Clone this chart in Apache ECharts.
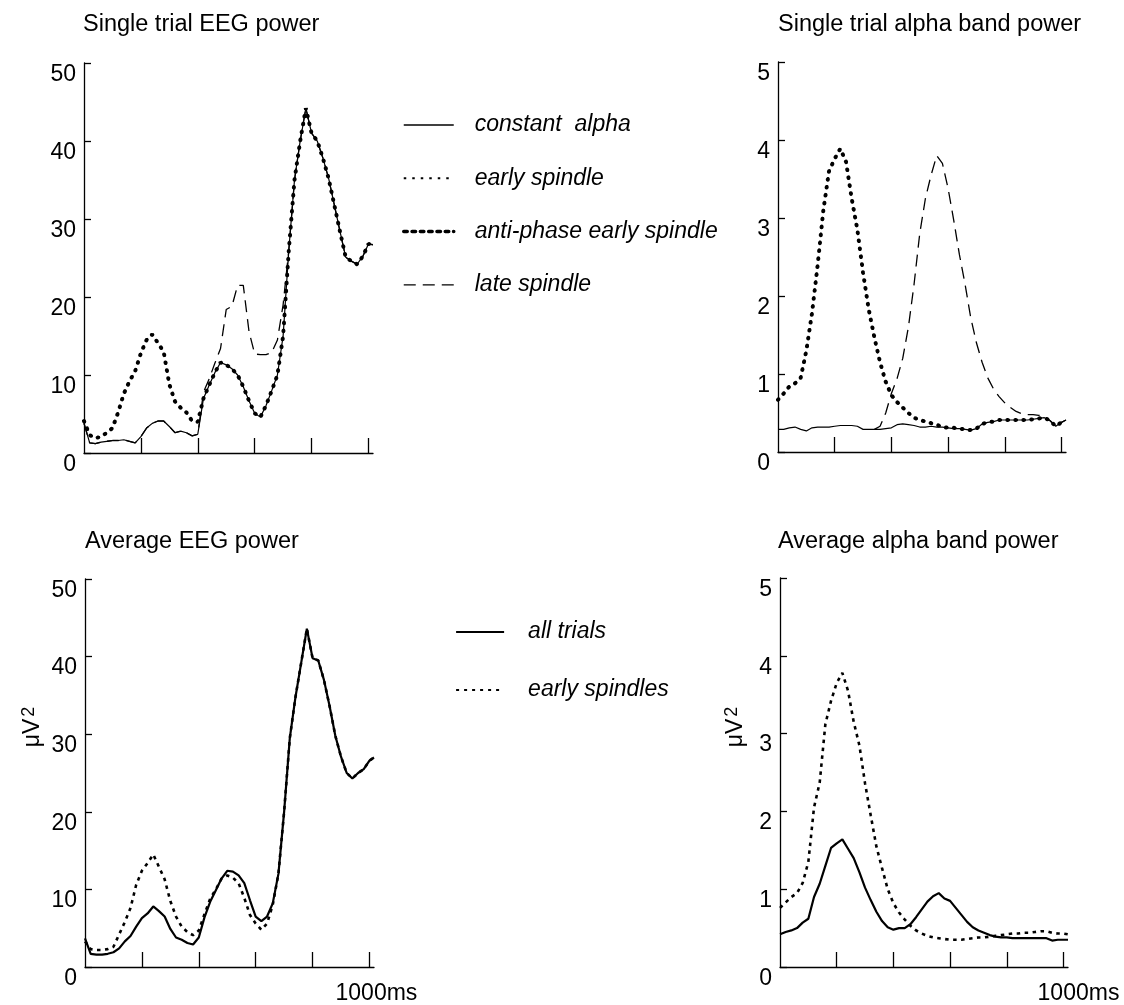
<!DOCTYPE html>
<html>
<head>
<meta charset="utf-8">
<script src="https://cdn.jsdelivr.net/npm/echarts@6/dist/echarts.min.js"></script>
<style>
html,body{margin:0;padding:0;background:#fff;}
#chart{width:1124px;height:1005px;}
</style>
</head>
<body>
<div id="chart"></div>
<script>
// ---------- DATA ----------
const timeMs = [0,20,40,60,80,100,120,140,160,180,200,220,240,260,280,300,320,340,360,380,400,
  420,440,460,480,500,520,540,560,580,600,620,640,660,680,700,720,740,760,780,800,
  820,840,860,880,900,920,940,960,980,1000,1016];

const xTickValues = [200,400,600,800,1000];
const xLabelValues = [1000];
const eegTicks = [0,10,20,30,40,50];
const alphaTicks = [0,1,2,3,4,5];

// Single trial EEG power
const eegConstant = [3.8,1.3,1.2,1.4,1.5,1.6,1.6,1.7,1.5,1.3,2.1,3.2,3.8,4.1,4.1,3.4,2.6,2.8,2.6,2.2,2.4,
  7.0,8.7,10.3,11.6,11.3,10.8,10.0,8.5,6.7,5.1,4.6,6.1,8.0,10.0,15.0,26.0,35.0,40.0,44.2,41.0,
  40.0,37.8,35.2,31.8,28.4,25.1,24.6,24.2,25.2,26.8,26.7];
const eegEarly = [4.1,2.3,1.9,2.1,2.6,3.2,5.2,7.6,9.2,10.5,12.8,14.5,15.2,14.1,13.0,8.8,6.6,5.8,5.2,4.1,4.0,
  7.0,8.7,10.3,11.6,11.3,10.8,10.0,8.5,6.7,5.1,4.6,6.1,8.0,10.0,15.0,26.0,35.0,40.0,44.2,41.0,
  40.0,37.8,35.2,31.8,28.4,25.1,24.6,24.2,25.2,26.8,26.7];
const eegAntiPhase = [4.1,2.3,1.9,2.1,2.6,3.2,5.2,7.6,9.2,10.5,12.8,14.5,15.2,14.1,13.0,8.8,6.6,5.8,5.2,4.1,4.0,
  7.0,8.7,10.3,11.6,11.3,10.8,10.0,8.5,6.7,5.1,4.6,6.1,8.0,10.0,15.0,26.0,35.0,40.0,44.2,41.0,
  40.0,37.8,35.2,31.8,28.4,25.1,24.6,24.2,25.2,26.8,26.7];
const eegLate = [3.8,1.3,1.2,1.4,1.5,1.6,1.6,1.7,1.5,1.3,2.1,3.2,3.8,4.1,4.1,3.4,2.6,2.8,2.6,2.2,2.4,
  7.8,9.5,11.5,13.4,18.4,18.8,21.5,21.5,15.6,12.7,12.6,12.6,12.9,14.5,19.0,26.0,35.0,40.0,44.2,41.0,
  40.0,37.8,35.2,31.8,28.4,25.1,24.6,24.2,25.2,26.8,26.7];

// Single trial alpha band power
const alphaConstant = [0.29,0.29,0.31,0.32,0.29,0.27,0.31,0.32,0.32,0.32,0.33,0.34,0.34,0.34,0.33,0.29,0.29,0.29,0.29,0.30,0.31,
  0.35,0.36,0.35,0.34,0.32,0.32,0.33,0.32,0.32,0.31,0.30,0.30,0.29,0.28,0.30,0.36,0.38,0.39,0.41,0.41,
  0.41,0.41,0.41,0.41,0.42,0.43,0.44,0.40,0.33,0.38,0.41];
const alphaEarly = [0.67,0.75,0.84,0.88,0.95,1.30,1.78,2.40,3.10,3.60,3.76,3.89,3.72,3.25,2.85,2.30,1.83,1.47,1.15,0.90,0.73,
  0.64,0.57,0.50,0.44,0.41,0.39,0.37,0.35,0.32,0.31,0.31,0.30,0.29,0.28,0.30,0.36,0.38,0.39,0.41,0.41,
  0.41,0.41,0.41,0.41,0.42,0.43,0.44,0.40,0.33,0.38,0.41];
const alphaAntiPhase = [0.67,0.75,0.84,0.88,0.95,1.30,1.78,2.40,3.10,3.60,3.76,3.89,3.72,3.25,2.85,2.30,1.83,1.47,1.15,0.90,0.73,
  0.64,0.57,0.50,0.44,0.41,0.39,0.37,0.35,0.32,0.31,0.31,0.30,0.29,0.28,0.30,0.36,0.38,0.39,0.41,0.41,
  0.41,0.41,0.41,0.41,0.42,0.43,0.44,0.40,0.33,0.38,0.41];
const alphaLate = [null,null,null,null,null,null,null,null,null,null,null,null,null,null,null,null,null,0.29,0.33,0.50,0.75,
  0.94,1.20,1.60,2.15,2.80,3.25,3.55,3.80,3.70,3.38,2.97,2.53,2.15,1.72,1.40,1.15,0.95,0.81,0.71,0.63,
  0.57,0.52,0.49,0.48,0.48,0.47,0.46,0.40,0.33,0.38,0.41];

// Average EEG power
const avgEegAll = [3.7,1.7,1.6,1.6,1.7,1.9,2.4,3.3,4.0,5.2,6.3,6.9,7.8,7.2,6.5,4.9,3.8,3.5,3.1,2.9,3.8,
  6.4,8.4,9.9,11.4,12.4,12.3,11.8,10.8,8.6,6.5,5.9,6.5,8.2,12.0,20.0,29.5,34.8,39.2,43.6,39.8,
  39.5,37.0,33.6,29.8,27.1,25.0,24.3,25.0,25.5,26.6,27.0];
const avgEegEarly = [3.3,2.3,2.2,2.2,2.3,2.6,4.2,5.8,7.6,10.6,12.4,13.4,14.5,12.9,11.3,8.5,6.5,5.2,4.5,4.1,4.7,
  6.8,8.8,10.0,11.4,11.8,11.5,10.8,8.9,6.7,5.6,4.8,5.6,8.0,12.0,20.0,29.5,34.8,39.2,43.6,39.8,
  39.5,37.0,33.6,29.8,27.1,25.0,24.3,25.0,25.5,26.6,27.0];

// Average alpha band power
const avgAlphaAll = [0.42,0.45,0.47,0.50,0.57,0.62,0.90,1.07,1.30,1.53,1.59,1.64,1.52,1.40,1.22,1.02,0.86,0.71,0.59,0.51,0.48,
  0.50,0.50,0.55,0.64,0.74,0.84,0.91,0.95,0.88,0.85,0.76,0.67,0.58,0.51,0.47,0.44,0.41,0.39,0.38,0.38,
  0.37,0.37,0.37,0.37,0.37,0.37,0.37,0.34,0.35,0.35,0.35];
const avgAlphaEarly = [0.76,0.83,0.90,0.95,1.08,1.35,2.05,2.37,3.12,3.42,3.65,3.78,3.55,3.15,2.85,2.36,1.95,1.55,1.27,1.00,0.82,
  0.70,0.61,0.53,0.47,0.43,0.40,0.38,0.37,0.36,0.35,0.35,0.35,0.36,0.37,0.38,0.38,0.39,0.40,0.41,0.42,
  0.43,0.43,0.44,0.44,0.45,0.46,0.46,0.44,0.43,0.43,0.42];

const titles = ['Single trial EEG power','Single trial alpha band power','Average EEG power','Average alpha band power'];
const topLegendNames = ['constant  alpha','early spindle','anti-phase early spindle','late spindle'];
const bottomLegendNames = ['all trials','early spindles'];
const unitMain = 'μV';
const unitSup = '2';
const xEndLabel = '1000ms';

// ---------- STYLE / LAYOUT ----------
const FONT = '"Liberation Sans", Arial, Helvetica, sans-serif';
const FS = 23;
const X_MAX = 1016;
const grids = [
  {left:84, top:63, width:289, height:390},
  {left:778, top:62, width:288, height:390},
  {left:85, top:579, width:289, height:390},
  {left:780, top:578, width:288, height:389}
];

const pairs = arr => timeMs.map((t,i)=>[t, arr[i]]);

function xAxisFor(gi, showLabel, padLeft){
  return {
    type:'value', gridIndex:gi, min:0, max:X_MAX,
    axisLine:{show:true, onZero:false, lineStyle:{color:'#000', width:1.3}},
    axisTick:{show:true, inside:true, length:15, customValues:xTickValues, lineStyle:{color:'#000', width:1.3}},
    axisLabel: showLabel ? {show:true, customValues:xLabelValues, formatter:()=>xEndLabel,
      fontSize:FS, fontFamily:FONT, color:'#000', margin:15, padding:[0,0,0,padLeft]} : {show:false},
    splitLine:{show:false}
  };
}
function yAxisFor(gi, ticks){
  return {
    type:'value', gridIndex:gi, min:ticks[0], max:ticks[ticks.length-1], interval:ticks[1]-ticks[0],
    axisLine:{show:true, onZero:false, lineStyle:{color:'#000', width:1.3}},
    axisTick:{show:true, inside:true, length:7, lineStyle:{color:'#000', width:1.3}},
    axisLabel:{show:true, fontSize:FS, fontFamily:FONT, color:'#000', margin:8, verticalAlign:'top'},
    splitLine:{show:false}
  };
}

const styles = {
  solidThin:{color:'#000', width:1.2, type:'solid'},
  dotThin:{color:'#000', width:2, type:[2.5,5.5]},
  dotThick:{color:'#000', width:4, type:[0.5,7.5], cap:'round'},
  dashed:{color:'#000', width:1.3, type:[12,7]},
  solidBold:{color:'#000', width:2.2, type:'solid'},
  dotMed:{color:'#000', width:2.6, type:[3.5,4.5]}
};

function line(name, data, gi, st, z){
  return {
    name, type:'line', xAxisIndex:gi, yAxisIndex:gi, data:pairs(data),
    symbol:'none', showSymbol:false, smooth:false, connectNulls:false, z:z||2,
    lineStyle:st, itemStyle:{color:'#000'}, emphasis:{disabled:true}, silent:true, animation:false
  };
}

const series = [
  line(topLegendNames[0], eegConstant, 0, styles.solidThin, 2),
  line(topLegendNames[3], eegLate, 0, styles.dashed, 3),
  line(topLegendNames[1], eegEarly, 0, styles.dotThin, 4),
  line(topLegendNames[2], eegAntiPhase, 0, styles.dotThick, 5),
  line(topLegendNames[0], alphaConstant, 1, styles.solidThin, 2),
  line(topLegendNames[3], alphaLate, 1, styles.dashed, 3),
  line(topLegendNames[1], alphaEarly, 1, styles.dotThin, 4),
  line(topLegendNames[2], alphaAntiPhase, 1, styles.dotThick, 5),
  line(bottomLegendNames[0], avgEegAll, 2, styles.solidBold, 3),
  line(bottomLegendNames[1], avgEegEarly, 2, styles.dotMed, 4),
  line(bottomLegendNames[0], avgAlphaAll, 3, styles.solidBold, 3),
  line(bottomLegendNames[1], avgAlphaEarly, 3, styles.dotMed, 4)
];

const titleStyle = {fontSize:23.5, fontWeight:'normal', fontFamily:FONT, color:'#000'};
const legendText = {fontSize:FS, fontStyle:'italic', fontFamily:FONT, color:'#000', lineHeight:26};
const hiddenSymbol = {color:'rgba(0,0,0,0)', borderWidth:0, opacity:0};

const topLegendStyles = [{color:'#000', width:1.5, type:'solid'}, {color:'#000', width:2, type:[2.5,6]}, {color:'#000', width:3.5, type:[3.5,4.8]}, styles.dashed];
const bottomLegendStyles = [{color:'#000', width:2, type:'solid'}, {color:'#000', width:2.2, type:[3,5]}];

const unitText = x => ({
  type:'text', x:x, y:727, rotation:Math.PI/2, silent:true,
  style:{text:'{a|'+unitMain+'}{b|'+unitSup+'}', fill:'#000', align:'center', verticalAlign:'middle',
    textAlign:'center', textVerticalAlign:'middle',
    rich:{a:{fontSize:FS, fontFamily:FONT, fill:'#000', color:'#000', lineHeight:26},
          b:{fontSize:18, fontFamily:FONT, fill:'#000', color:'#000', verticalAlign:'top', lineHeight:18, padding:[0,0,0,2]}}}
});

const option = {
  backgroundColor:'#fff',
  animation:false,
  title:[
    {text:titles[0], left:83, top:13, padding:0, textStyle:titleStyle},
    {text:titles[1], left:778, top:13, padding:0, textStyle:titleStyle},
    {text:titles[2], left:85, top:530, padding:0, textStyle:titleStyle},
    {text:titles[3], left:778, top:530, padding:0, textStyle:titleStyle}
  ],
  legend:[
    {data:topLegendNames.map((n,i)=>({name:n, lineStyle:topLegendStyles[i], itemStyle:hiddenSymbol})),
      orient:'vertical', left:402, top:112, padding:0, itemWidth:50, itemHeight:14, itemGap:27.3,
      itemStyle:hiddenSymbol,
      textStyle:Object.assign({padding:[0,0,0,16]}, legendText), selectedMode:false, inactiveColor:'#000'},
    {data:bottomLegendNames.map((n,i)=>({name:n, lineStyle:bottomLegendStyles[i], itemStyle:hiddenSymbol})),
      orient:'vertical', left:455, top:619, padding:0, itemWidth:48, itemHeight:14, itemGap:32,
      itemStyle:hiddenSymbol,
      textStyle:Object.assign({padding:[0,0,0,19]}, legendText), selectedMode:false, inactiveColor:'#000'}
  ],
  grid: grids.map(g=>Object.assign({containLabel:false}, g)),
  xAxis:[xAxisFor(0,false,0), xAxisFor(1,false,0), xAxisFor(2,true,14), xAxisFor(3,true,30)],
  yAxis:[yAxisFor(0,eegTicks), yAxisFor(1,alphaTicks), yAxisFor(2,eegTicks), yAxisFor(3,alphaTicks)],
  graphic:[unitText(33), unitText(736)],
  series
};

const chart = echarts.init(document.getElementById('chart'), null, {renderer:'canvas'});
chart.setOption(option);
</script>
</body>
</html>
